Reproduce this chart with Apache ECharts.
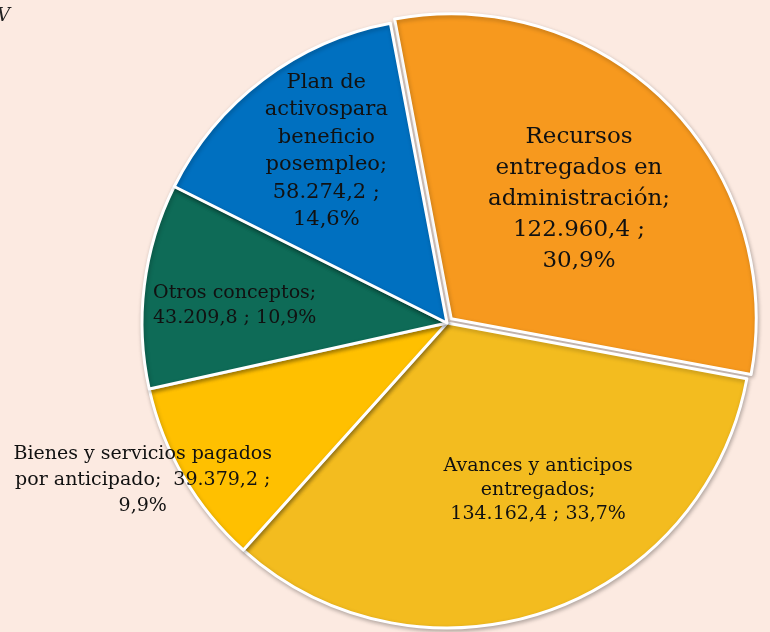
<!DOCTYPE html>
<html>
<head>
<meta charset="utf-8">
<script src="https://cdn.jsdelivr.net/npm/echarts@6/dist/echarts.min.js"></script>
<style>
html,body{margin:0;padding:0;background:#FCEAE1;}
#chart{width:770px;height:632px;}
</style>
</head>
<body>
<div id="chart"></div>
<script>
// Data (clockwise order from top)
const categories = [
  'Recursos entregados en administración',
  'Avances y anticipos entregados',
  'Bienes y servicios pagados por anticipado',
  'Otros conceptos',
  'Plan de activospara beneficio posempleo'
];
const values = [122960.4, 134162.4, 39379.2, 43209.8, 58274.2];
const valueLabels = ['122.960,4', '134.162,4', '39.379,2', '43.209,8', '58.274,2'];
const percentLabels = ['30,9%', '33,7%', '9,9%', '10,9%', '14,6%'];
const labelTexts = [
  'Recursos\nentregados en\nadministración;\n122.960,4 ;\n30,9%',
  'Avances y anticipos\nentregados;\n134.162,4 ; 33,7%',
  'Bienes y servicios pagados\npor anticipado;  39.379,2 ;\n9,9%',
  'Otros conceptos;\n43.209,8 ; 10,9%',
  'Plan de\nactivospara\nbeneficio\nposempleo;\n58.274,2 ;\n14,6%'
];
const colors = ['#F7991E', '#F3BC1F', '#FFC000', '#0E6B57', '#0070C0'];

// style-only settings per slice
const labelStyle = [
  {fontSize: 23, lineHeight: 31, dx: 18, dy: -10},
  {fontSize: 19, lineHeight: 24, dx: 41, dy: 20},
  {fontSize: 19, lineHeight: 26, dx: -170, dy: 79},
  {fontSize: 19, lineHeight: 25, dx: -58, dy: 2},
  {fontSize: 21, lineHeight: 27.5, dx: -27, dy: -48}
];

const chart = echarts.init(document.getElementById('chart'), null, {renderer: 'canvas'});
const data = categories.map((c, i) => ({
  name: c,
  value: values[i],
  selected: i === 0,
  itemStyle: {color: colors[i]},
  label: {
    formatter: labelTexts[i],
    fontSize: labelStyle[i].fontSize,
    lineHeight: labelStyle[i].lineHeight
  }
}));

chart.setOption({
  backgroundColor: '#FCEAE1',
  animation: false,
  title: {
    text: 'V',
    left: -8,
    top: 2,
    textStyle: {fontFamily: 'DejaVu Serif', fontStyle: 'italic', fontSize: 18, fontWeight: 'normal', color: '#222'}
  },
  series: [{
    type: 'pie',
    center: [447, 323],
    radius: [0, 305],
    startAngle: 100.7,
    clockwise: true,
    selectedMode: 'single',
    selectedOffset: 6,
    avoidLabelOverlap: false,
    emphasis: {disabled: true},
    itemStyle: {
      borderColor: '#FFFFFF',
      borderWidth: 3,
      shadowBlur: 4,
      shadowColor: 'rgba(0,0,0,0.25)',
      shadowOffsetX: 1,
      shadowOffsetY: 2
    },
    label: {
      show: true,
      position: 'inside',
      color: '#111',
      fontFamily: 'DejaVu Serif',
      align: 'center'
    },
    labelLine: {show: false},
    labelLayout: function (params) {
      const s = labelStyle[params.dataIndex];
      return {dx: s.dx, dy: s.dy};
    },
    data: data
  }]
});
</script>
</body>
</html>
